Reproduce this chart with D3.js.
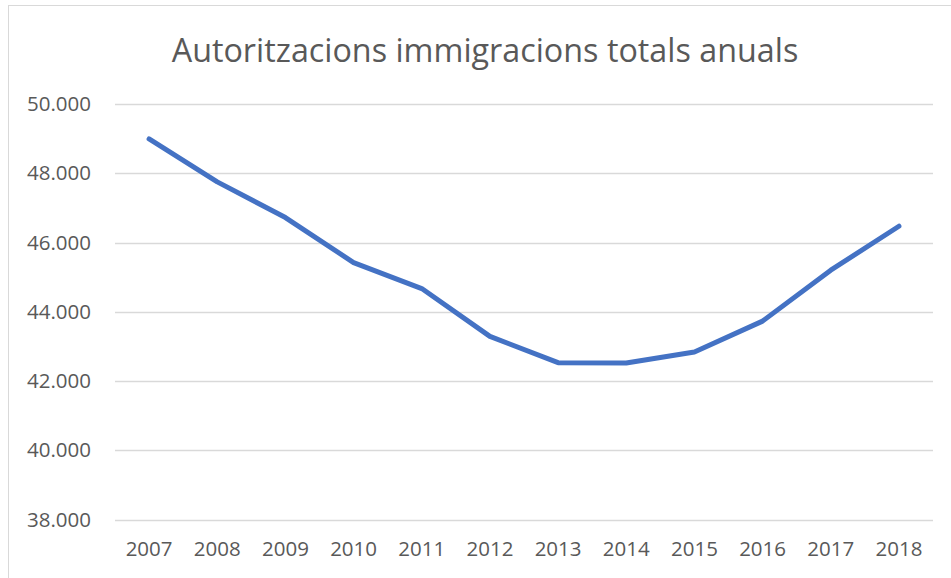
<!DOCTYPE html>
<html><head><meta charset="utf-8">
<script src="https://cdn.jsdelivr.net/npm/d3@7"></script>
<style>html,body{margin:0;padding:0;background:#fff;}svg{display:block;}</style>
</head><body>
<script>
const title = "Autoritzacions immigracions totals anuals";
const years = ["2007","2008","2009","2010","2011","2012","2013","2014","2015","2016","2017","2018"];
const values = [48990, 47750, 46720, 45420, 44670, 43290, 42530, 42520, 42840, 43730, 45200, 46470];
const yTicks = [38000, 40000, 42000, 44000, 46000, 48000, 50000];

const W = 951, H = 578;
const svg = d3.select("body").append("svg").attr("width", W).attr("height", H);
const font = "'Open Sans', sans-serif";
const textColor = "#595959";

// chart frame
svg.append("rect").attr("x", 8.5).attr("y", 5.5).attr("width", W).attr("height", H)
  .attr("fill", "#fff").attr("stroke", "#d9d9d9").attr("stroke-width", 1);

const x = d3.scaleBand().domain(years).range([115, 933]);
const y = d3.scaleLinear().domain([38000, 50000]).range([519.5, 104]);

// gridlines
svg.append("g").selectAll("line").data(yTicks).join("line")
  .attr("x1", 115).attr("x2", 933)
  .attr("y1", d => Math.round(y(d)) + 0.5).attr("y2", d => Math.round(y(d)) + 0.5)
  .attr("stroke", "#d9d9d9").attr("stroke-width", 1.3);

const fmt = d => d3.format(",")(d).replace(/,/g, ".");

// y axis
const yAxis = svg.append("g").attr("transform", "translate(115,0)")
  .call(d3.axisLeft(y).tickValues(yTicks).tickFormat(fmt).tickSize(0).tickPadding(24));
yAxis.select(".domain").remove();
yAxis.selectAll("text").attr("font-family", font).attr("font-size", 20.5).attr("fill", textColor);

// x axis
const xAxis = svg.append("g").attr("transform", "translate(0,519.5)")
  .call(d3.axisBottom(x).tickSize(0).tickPadding(22));
xAxis.select(".domain").remove();
xAxis.selectAll("text").attr("font-family", font).attr("font-size", 20.5).attr("fill", textColor);

// line
const line = d3.line().x((d, i) => x(years[i]) + x.bandwidth() / 2).y(d => y(d));
svg.append("path").datum(values).attr("d", line)
  .attr("fill", "none").attr("stroke", "#4472C4").attr("stroke-width", 5)
  .attr("stroke-linejoin", "round").attr("stroke-linecap", "round");

// title
svg.append("text").attr("x", 485).attr("y", 62).attr("text-anchor", "middle")
  .attr("font-family", font).attr("font-size", 32.3).attr("fill", textColor)
  .text(title);
</script>
</body></html>
